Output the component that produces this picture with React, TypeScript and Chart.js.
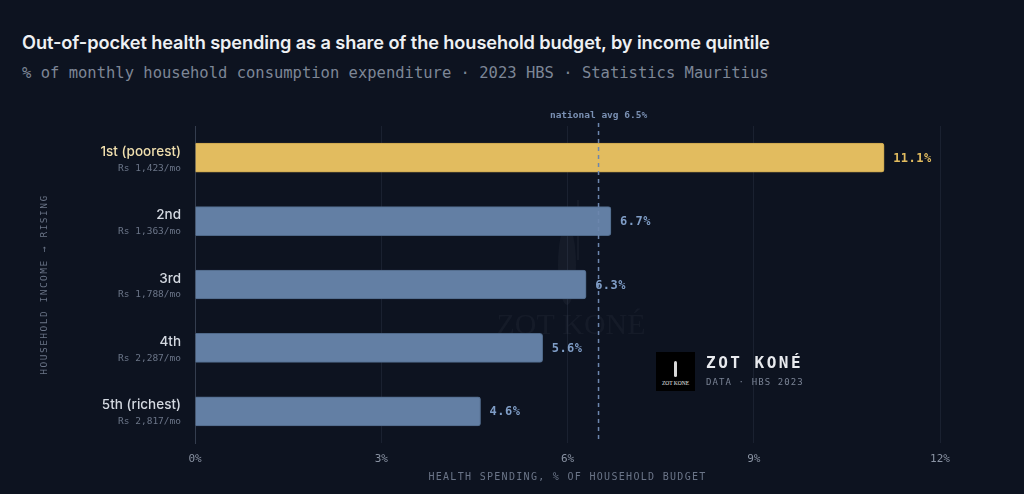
import React, { useEffect, useRef } from "react";
import { Chart, registerables } from "chart.js";

Chart.register(...registerables);

const categories = ["1st (poorest)", "2nd", "3rd", "4th", "5th (richest)"];
const incomes = ["Rs 1,423/mo", "Rs 1,363/mo", "Rs 1,788/mo", "Rs 2,287/mo", "Rs 2,817/mo"];
const shares = [11.1, 6.7, 6.3, 5.6, 4.6];
const nationalAvg = 6.5;
const xMin = 0;
const xMax = 12;
const xStep = 3;

const BG = "#0d1320";
const MONO = "'DejaVu Sans Mono', 'Liberation Mono', monospace";
const SANS = "Inter, 'Noto Sans', sans-serif";
const YELLOW = "#e2bc5f";
const BLUE = "#637fa4";

const overlayPlugin = {
  id: "overlay",
  beforeDatasetsDraw(chart: any) {
    const { ctx } = chart;
    // faint watermark
    ctx.save();
    ctx.fillStyle = "rgba(200,210,230,0.045)";
    ctx.font = "30px 'Liberation Serif', serif";
    ctx.textAlign = "center";
    ctx.textBaseline = "middle";
    ctx.fillText("ZOT KONÉ", 571, 326);
    ctx.beginPath();
    ctx.ellipse(567, 265, 9, 40, 0, 0, Math.PI * 2);
    ctx.fill();
    ctx.beginPath();
    ctx.arc(567, 218, 6, 0, Math.PI * 2);
    ctx.fill();
    ctx.fillRect(577, 200, 2, 60);
    ctx.restore();
  },
  afterDatasetsDraw(chart: any) {
    const { ctx, chartArea, scales } = chart;
    const xs = scales.x;
    const ys = scales.y;
    ctx.save();

    // national average dashed line
    const ax = xs.getPixelForValue(nationalAvg);
    ctx.strokeStyle = "#6c86ad";
    ctx.lineWidth = 1.5;
    ctx.setLineDash([4, 4]);
    ctx.beginPath();
    ctx.moveTo(ax, chartArea.top - 3);
    ctx.lineTo(ax, chartArea.bottom);
    ctx.stroke();
    ctx.setLineDash([]);
    ctx.fillStyle = "#7a90b3";
    ctx.font = `bold 9.5px ${MONO}`;
    ctx.textAlign = "center";
    ctx.textBaseline = "middle";
    ctx.fillText(`national avg ${nationalAvg}%`, ax, chartArea.top - 10);

    // value labels
    const meta = chart.getDatasetMeta(0);
    meta.data.forEach((bar: any, i: number) => {
      ctx.font = `bold 12px ${MONO}`;
      (ctx as any).letterSpacing = "0.5px";
      ctx.fillStyle = i === 0 ? YELLOW : "#7f9dc6";
      ctx.textAlign = "left";
      ctx.textBaseline = "middle";
      ctx.fillText(`${shares[i]}%`, bar.x + 9, bar.y + 1);
    });
    (ctx as any).letterSpacing = "0px";

    // y labels
    categories.forEach((c, i) => {
      const y = ys.getPixelForValue(i);
      const rx = chartArea.left - 14;
      ctx.textAlign = "right";
      ctx.textBaseline = "middle";
      ctx.font = `500 13.5px ${SANS}`;
      ctx.fillStyle = i === 0 ? "#f0dfae" : "#d4d9e1";
      ctx.fillText(c, rx, y - 6);
      ctx.font = `9.5px ${MONO}`;
      ctx.fillStyle = "#6b7588";
      ctx.fillText(incomes[i], rx, y + 10.5);
    });

    // y title
    ctx.save();
    ctx.translate(45, (chartArea.top + chartArea.bottom) / 2);
    ctx.rotate(-Math.PI / 2);
    ctx.font = `9.5px ${MONO}`;
    (ctx as any).letterSpacing = "1.5px";
    ctx.fillStyle = "#6b7588";
    ctx.textAlign = "center";
    ctx.textBaseline = "middle";
    ctx.fillText("HOUSEHOLD INCOME → RISING", 0, 0);
    ctx.restore();

    // x title
    ctx.font = `10px ${MONO}`;
    (ctx as any).letterSpacing = "1.3px";
    ctx.fillStyle = "#6b7588";
    ctx.textAlign = "center";
    ctx.textBaseline = "middle";
    ctx.fillText("HEALTH SPENDING, % OF HOUSEHOLD BUDGET", (chartArea.left + chartArea.right) / 2, 477);
    (ctx as any).letterSpacing = "0px";

    ctx.restore();
  },
};

export default function App() {
  const ref = useRef<HTMLCanvasElement | null>(null);

  useEffect(() => {
    document.body.style.margin = "0";
    document.body.style.background = BG;
    if (!ref.current) return;
    const chart = new Chart(ref.current, {
      type: "bar",
      data: {
        labels: categories,
        datasets: [
          {
            data: shares,
            backgroundColor: shares.map((_, i) => (i === 0 ? YELLOW : BLUE)),
            borderColor: shares.map((_, i) => (i === 0 ? "#c9a54d" : "#4f6989")),
            borderWidth: 1,
            borderRadius: 3,
            borderSkipped: "start",
            barThickness: 29,
          },
        ],
      },
      options: {
        indexAxis: "y",
        animation: false,
        responsive: false,
        devicePixelRatio: 1,
        layout: { padding: { left: 36, right: 84, top: 126, bottom: 0 } },
        plugins: {
          legend: { display: false },
          tooltip: { enabled: false },
          title: { display: false },
        },
        scales: {
          x: {
            min: xMin,
            max: xMax,
            ticks: {
              stepSize: xStep,
              callback: (v: any) => `${v}%`,
              color: "#8a93a3",
              font: { family: MONO, size: 11 },
              padding: 10,
            },
            grid: { color: "#1a2130", drawTicks: false, lineWidth: 1 },
            border: { display: false },
            afterFit: (s: any) => {
              s.height = 51;
            },
          },
          y: {
            ticks: { display: false },
            grid: { display: false, drawTicks: false },
            border: { display: true, color: "#343d4e", width: 1 },
            afterFit: (s: any) => {
              s.width = 159;
            },
          },
        },
      } as any,
      plugins: [overlayPlugin],
    });
    return () => chart.destroy();
  }, []);

  return (
    <div style={{ position: "fixed", left: 0, top: 0, width: 1024, height: 494, background: BG, overflow: "hidden" }}>
      <div
        style={{
          position: "absolute",
          left: 22,
          top: 31,
          font: `600 18.2px ${SANS}`,
          lineHeight: "22px",
          color: "#eef0f3",
          whiteSpace: "nowrap",
          letterSpacing: "-0.1px",
        }}
      >
        Out-of-pocket health spending as a share of the household budget, by income quintile
      </div>
      <div
        style={{
          position: "absolute",
          left: 22,
          top: 64,
          font: `15.5px ${MONO}`,
          lineHeight: "18px",
          color: "#7d8696",
          whiteSpace: "nowrap",
        }}
      >
        % of monthly household consumption expenditure · 2023 HBS · Statistics Mauritius
      </div>
      <canvas ref={ref} width={1024} height={494} style={{ position: "absolute", left: 0, top: 0, width: 1024, height: 494 }} />
      <div
        style={{
          position: "absolute",
          left: 656,
          top: 352,
          width: 39,
          height: 39,
          background: "#000",
          color: "#e8e8e8",
          display: "flex",
          flexDirection: "column",
          alignItems: "center",
          justifyContent: "flex-end",
          paddingBottom: 5,
          boxSizing: "border-box",
        }}
      >
        <div style={{ width: 3, height: 16, background: "#d8d8d8", borderRadius: 2, marginBottom: 3 }} />
        <div style={{ font: "5.5px 'Liberation Serif', serif", whiteSpace: "nowrap", lineHeight: "6px" }}>ZOT KONE</div>
      </div>
      <div
        style={{
          position: "absolute",
          left: 706,
          top: 353,
          font: `bold 16px ${MONO}`,
          lineHeight: "20px",
          letterSpacing: "2.5px",
          color: "#e8eaee",
          whiteSpace: "nowrap",
        }}
      >
        ZOT KONÉ
      </div>
      <div
        style={{
          position: "absolute",
          left: 706,
          top: 376,
          font: `9px ${MONO}`,
          lineHeight: "12px",
          letterSpacing: "1.1px",
          color: "#7a8395",
          whiteSpace: "nowrap",
        }}
      >
        DATA · HBS 2023
      </div>
    </div>
  );
}
